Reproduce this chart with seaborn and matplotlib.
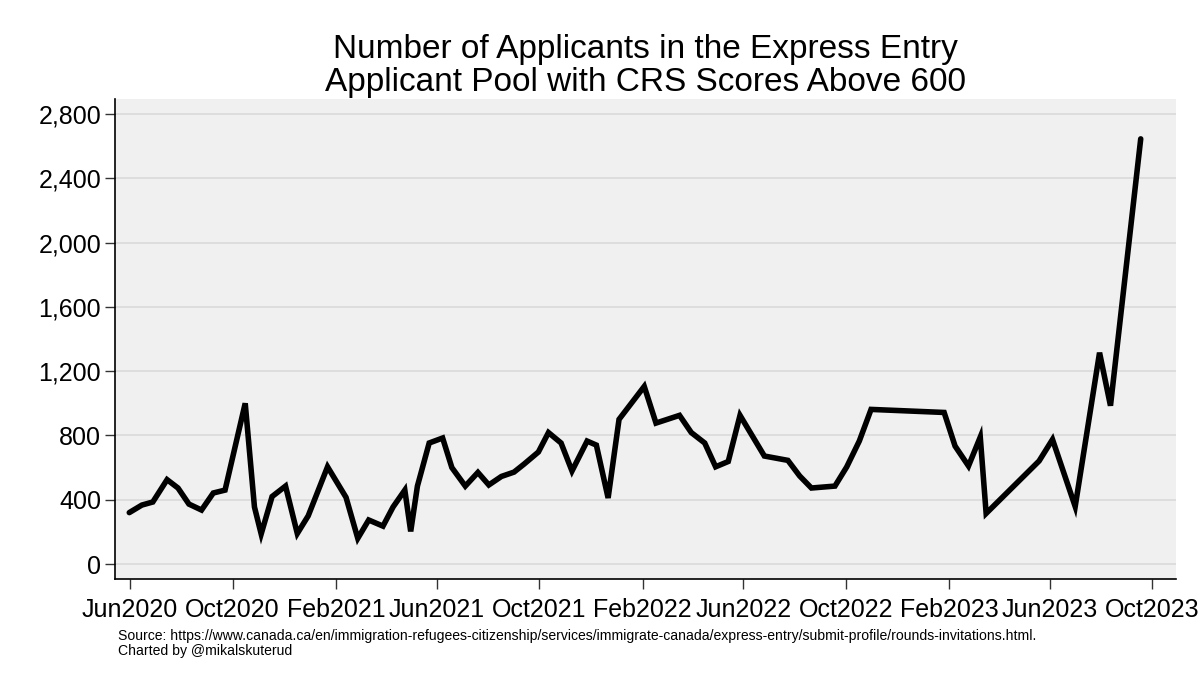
import pandas as pd
import matplotlib.pyplot as plt
import matplotlib.dates as mdates
import matplotlib.ticker as mticker
import seaborn as sns

# Draw dates and counts of applicants with CRS > 600
draw_dates = [
    "2020-05-31", "2020-06-15", "2020-06-28", "2020-07-15", "2020-07-28",
    "2020-08-10", "2020-08-25", "2020-09-08", "2020-09-22", "2020-10-16",
    "2020-10-27", "2020-11-04", "2020-11-17", "2020-12-03", "2020-12-17",
    "2020-12-30", "2021-01-22", "2021-02-13", "2021-02-27", "2021-03-12",
    "2021-03-29", "2021-04-10", "2021-04-24", "2021-05-01", "2021-05-09",
    "2021-05-23", "2021-06-08", "2021-06-19", "2021-07-05", "2021-07-20",
    "2021-08-02", "2021-08-17", "2021-09-01", "2021-09-13", "2021-09-30",
    "2021-10-12", "2021-10-27", "2021-11-09", "2021-11-27", "2021-12-08",
    "2021-12-22", "2022-01-04", "2022-02-03", "2022-02-17", "2022-03-17",
    "2022-03-31", "2022-04-16", "2022-04-29", "2022-05-14", "2022-05-28",
    "2022-06-26", "2022-07-24", "2022-08-07", "2022-08-21", "2022-09-18",
    "2022-10-02", "2022-10-17", "2022-10-31", "2023-01-26", "2023-02-08",
    "2023-02-24", "2023-03-10", "2023-03-17", "2023-05-19", "2023-06-04",
    "2023-07-01", "2023-07-30", "2023-08-12", "2023-09-17",
]
applicants = [
    320, 367, 386, 525, 473,
    373, 336, 442, 460, 1000,
    355, 187, 420, 485, 190,
    300, 605, 415, 160, 274,
    236, 355, 460, 203, 485,
    753, 784, 600, 485, 570,
    492, 545, 572, 622, 697,
    818, 753, 579, 765, 740,
    411, 900, 1105, 877, 925,
    818, 753, 605, 638, 925,
    672, 645, 548, 473, 485,
    604, 765, 962, 943, 734,
    610, 790, 315, 641, 775,
    358, 1315, 985, 2645,
]

y_ticks = [0, 400, 800, 1200, 1600, 2000, 2400, 2800]
x_ticks = ["2020-06-01", "2020-10-01", "2021-02-01", "2021-06-01", "2021-10-01",
           "2022-02-01", "2022-06-01", "2022-10-01", "2023-02-01", "2023-06-01",
           "2023-10-01"]

df = pd.DataFrame({"date": pd.to_datetime(draw_dates), "applicants": applicants})

sns.set_style("white")
plt.rcParams["font.family"] = ["Liberation Sans", "DejaVu Sans"]
plt.rcParams["text.color"] = "black"
plt.rcParams["xtick.labelcolor"] = "black"
plt.rcParams["ytick.labelcolor"] = "black"

fig = plt.figure(figsize=(12, 6.86), dpi=100)
ax = fig.add_axes([115 / 1200, 1 - 579 / 686, (1176 - 115) / 1200, (579 - 99) / 686])
ax.set_facecolor("#f0f0f0")

sns.lineplot(data=df, x="date", y="applicants", color="black", linewidth=4,
             solid_joinstyle="miter", ax=ax, zorder=3)

ax.set_ylim(-93, 2893)
ax.set_xlim(pd.Timestamp("2020-05-14"), pd.Timestamp("2023-10-29"))
ax.set_yticks(y_ticks)
ax.yaxis.set_major_formatter(mticker.StrMethodFormatter("{x:,.0f}"))
ax.set_xticks(pd.to_datetime(x_ticks))
ax.xaxis.set_major_formatter(mdates.DateFormatter("%b%Y"))

ax.grid(axis="y", color="#dcdcdc", linewidth=1.3)
ax.grid(axis="x", visible=False)
ax.set_axisbelow(True)

for side in ["top", "right"]:
    ax.spines[side].set_visible(False)
for side in ["left", "bottom"]:
    ax.spines[side].set_color("black")
    ax.spines[side].set_linewidth(1.2)

ax.tick_params(axis="y", length=7, width=1, color="#333333", pad=3, labelsize=18, direction="out", left=True)
ax.tick_params(axis="x", length=7.5, width=1, color="#333333", pad=6, labelsize=18, direction="out", bottom=True)

ax.set_xlabel("")
ax.set_ylabel("")
ax.set_title("Number of Applicants in the Express Entry\nApplicant Pool with CRS Scores Above 600",
             fontsize=24, linespacing=1.08, pad=6, color="black")

fig.text(118 / 1200, 1 - 629 / 686,
         "Source: https://www.canada.ca/en/immigration-refugees-citizenship/services/immigrate-canada/"
         "express-entry/submit-profile/rounds-invitations.html.\nCharted by @mikalskuterud",
         fontsize=10.1, va="top", ha="left", linespacing=1.05)

fig.savefig("out.png", dpi=100)
